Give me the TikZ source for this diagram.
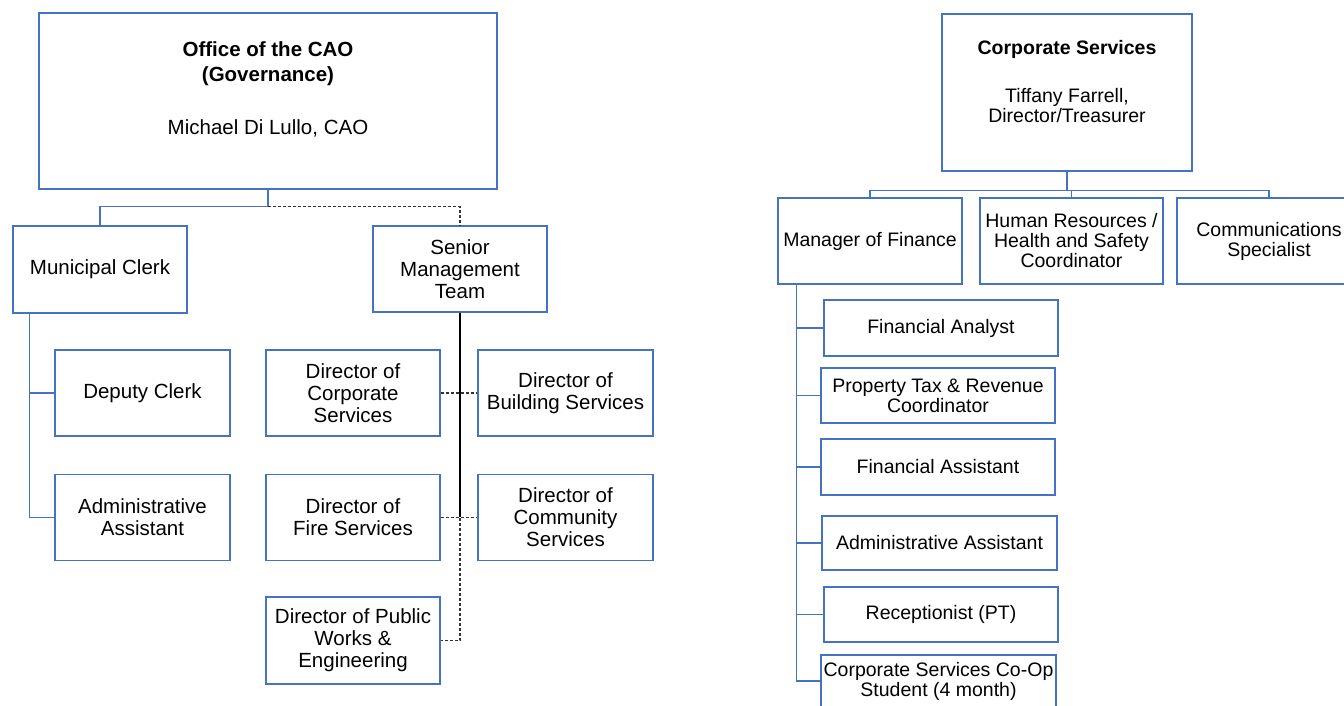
\documentclass[tikz,border=0pt]{standalone}
\usepackage{fontspec}
\setmainfont{Liberation Sans}
\usetikzlibrary{positioning}
\definecolor{orgblue}{RGB}{68,114,196}
\tikzset{
  unit/.style={draw=orgblue, line width=1.4pt, fill=white, align=center, inner sep=2pt,
    font=\fontsize{20.5}{22}\selectfont},
  unitr/.style={unit, font=\fontsize{19.5}{20}\selectfont},
  link/.style={draw=orgblue, line width=1.5pt},
  dotlink/.style={draw=black!80, line width=1.4pt, dash pattern=on 3pt off 2pt},
}
\begin{document}
\begin{tikzpicture}[x=1pt, y=-1pt]
\useasboundingbox (0,0) rectangle (1344,706);

\node[unit, minimum width=458pt, minimum height=176pt] (cao) at (268,101)
  {\textbf{Office of the CAO}\\[3pt]\textbf{(Governance)}\\[31pt]Michael Di Lullo, CAO\rule[-25pt]{0pt}{25pt}};
\node[unit, minimum width=174pt, minimum height=87pt] (clerk) at (100,269.5) {Municipal Clerk};
\node[unit, minimum width=174pt, minimum height=86pt] (smt) at (460,269) {Senior\\Management\\Team};

\node[unit, minimum width=175pt, minimum height=86pt] (deputy) at (142.5,393) {Deputy Clerk};
\node[unit, minimum width=175pt, minimum height=86pt, below=37pt of deputy] (admin) {Administrative\\Assistant};

\node[unit, minimum width=174pt, minimum height=86pt] (dircorp) at (353,393) {Director of\\Corporate\\Services};
\node[unit, minimum width=175pt, minimum height=86pt] (dirbuild) at (565.5,393) {Director of\\Building Services};
\node[unit, minimum width=174pt, minimum height=86pt, below=37pt of dircorp] (dirfire) {Director of\\Fire Services};
\node[unit, minimum width=175pt, minimum height=86pt, below=37pt of dirbuild] (dircomm) {Director of\\Community\\Services};
\node[unit, minimum width=174pt, minimum height=87pt, below=35pt of dirfire] (dirpw) {Director of Public\\Works \&\\Engineering};

\draw[link] (cao.south) -- ++(0,17) -| (clerk.north);
\draw[dotlink] (cao.south) ++(0,17) -| (smt.north);
\draw[link] ([xshift=17pt]clerk.south west) |- (deputy.west);
\draw[link] ([xshift=17pt]clerk.south west) |- (admin.west);

\draw[dotlink] (smt.south) |- (dirpw.east);
\draw[black, line width=1.4pt] (smt.south) -- (smt.south |- dirfire.east);
\draw[dotlink] (dircorp.east) -- (dirbuild.west);
\draw[dotlink] (dirfire.east) -- (dircomm.west);

\node[unitr, minimum width=250pt, minimum height=157pt] (corp) at (1067,92.5)
  {\textbf{Corporate Services}\\[28pt]Tiffany Farrell,\\Director/Treasurer\rule[-23pt]{0pt}{23pt}};
\node[unitr, minimum width=184pt, minimum height=86pt] (mgr) at (870,241) {Manager of Finance};
\node[unitr, minimum width=183pt, minimum height=86pt] (hr) at (1071.5,241) {Human Resources /\\Health and Safety\\Coordinator};
\node[unitr, minimum width=184pt, minimum height=86pt] (comms) at (1269,241) {Communications\\Specialist};

\node[unitr, minimum width=234pt, minimum height=56pt] (fa) at (941,328) {Financial Analyst};
\node[unitr, minimum width=234pt, minimum height=55pt] (ptax) at (938,395.5) {Property Tax \& Revenue\\Coordinator};
\node[unitr, minimum width=234pt, minimum height=56pt] (fas) at (938,467) {Financial Assistant};
\node[unitr, minimum width=235pt, minimum height=54pt] (aa) at (939.5,543) {Administrative Assistant};
\node[unitr, minimum width=234pt, minimum height=55pt] (rec) at (941,614.5) {Receptionist (PT)};
\node[unitr, minimum width=235pt, minimum height=52pt] (coop) at (938.5,681) {Corporate Services Co-Op\\Student (4 month)};

\draw[link] (corp.south) -- ++(0,19) -| (mgr.north);
\draw[link] (corp.south) -- ++(0,19) -| (hr.north);
\draw[link] (corp.south) -- ++(0,19) -| (comms.north);
\foreach \job in {fa,ptax,fas,aa,rec,coop}
  \draw[link] ([xshift=19pt]mgr.south west) |- (\job.west);
\end{tikzpicture}
\end{document}
